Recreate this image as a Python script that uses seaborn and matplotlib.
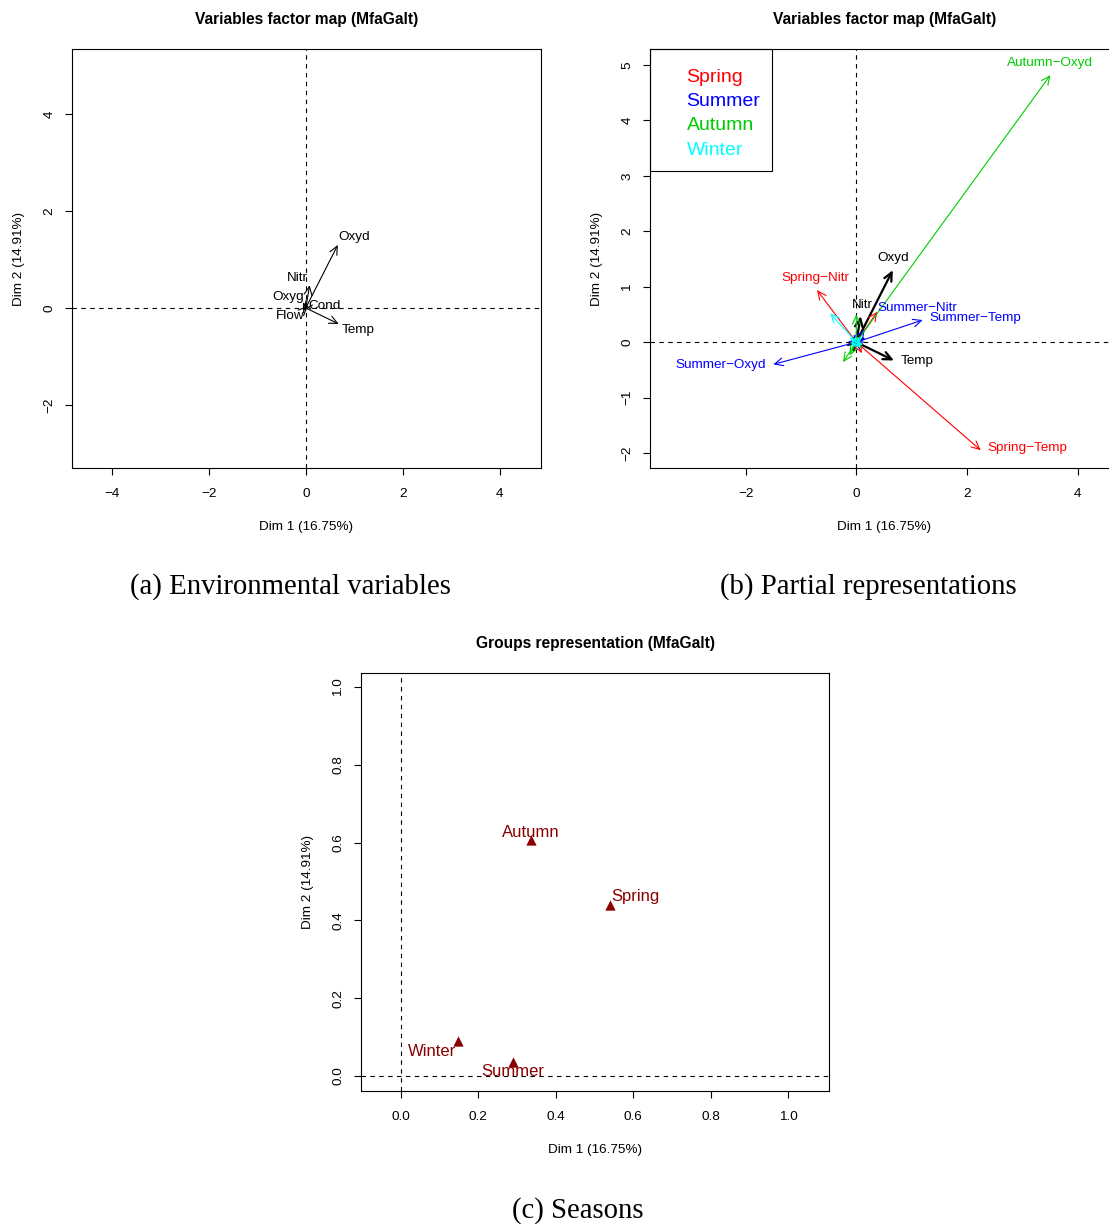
import numpy as np
import pandas as pd
import seaborn as sns
import matplotlib.pyplot as plt
from matplotlib.patches import Rectangle

# (a) environmental variables: coordinates on Dim 1 / Dim 2
env_vars = ["Oxyd", "Nitr", "Oxyg", "Cond", "Flow", "Temp"]
env_dim1 = [0.66, 0.08, -0.06, 0.04, -0.04, 0.68]
env_dim2 = [1.30, 0.47, 0.12, 0.04, -0.06, -0.33]

# (b) partial representations, one list per season (same variable order)
seasons = ["Spring", "Summer", "Autumn", "Winter"]
season_colors = ["#FF0000", "#0000FF", "#00CD00", "#00FFFF"]
spring_dim1 = [0.38, -0.71, 0.10, 0.05, -0.05, 2.25]
spring_dim2 = [0.55, 0.94, -0.20, 0.05, 0.08, -1.95]
summer_dim1 = [-1.50, 0.15, 0.08, -0.05, 0.05, 1.20]
summer_dim2 = [-0.40, 0.22, 0.05, 0.03, -0.04, 0.40]
autumn_dim1 = [3.51, 0.00, -0.24, -0.12, 0.05, 0.10]
autumn_dim2 = [4.82, 0.50, -0.36, -0.24, 0.10, -0.10]
winter_dim1 = [-0.12, -0.47, 0.10, 0.12, -0.10, 0.08]
winter_dim2 = [0.08, 0.52, 0.10, -0.05, -0.08, -0.10]

# (c) groups representation
group_names = ["Spring", "Summer", "Autumn", "Winter"]
group_dim1 = [0.539, 0.289, 0.335, 0.147]
group_dim2 = [0.440, 0.036, 0.607, 0.090]

XLAB = "Dim 1 (16.75%)"
YLAB = "Dim 2 (14.91%)"

sns.set_style("ticks")
plt.rcParams["font.family"] = ["Liberation Sans", "DejaVu Sans"]
plt.rcParams["axes.unicode_minus"] = True
plt.rcParams["text.color"] = "black"
plt.rcParams["axes.labelcolor"] = "black"


def style_axes(ax, title):
    for s in ax.spines.values():
        s.set_linewidth(0.8)
        s.set_color("black")
    ax.tick_params(direction="out", length=5, width=0.8, pad=9.5,
                   labelsize=9.7, colors="black")
    ax.tick_params(axis="y", labelrotation=90, pad=7)
    for lab in ax.get_yticklabels():
        lab.set_va("center")
    ax.set_xlabel(XLAB, fontsize=9.7, labelpad=15, color="black")
    ax.set_ylabel(YLAB, fontsize=9.7, labelpad=13, color="black")
    ax.set_title(title, fontsize=11.2, fontweight="bold", pad=18, color="black")
    ax.axhline(0, color="black", lw=0.8, ls=(0, (4, 4)), zorder=1)
    ax.axvline(0, color="black", lw=0.8, ls=(0, (4, 4)), zorder=1)


def arrow(ax, x, y, color, lw=0.8):
    ax.annotate("", xy=(x, y), xytext=(0, 0),
                arrowprops=dict(arrowstyle="->,head_length=0.6,head_width=0.28",
                                mutation_scale=10, color=color, lw=lw,
                                shrinkA=0, shrinkB=0), zorder=3)


def label(ax, text, x, y, off, color, size):
    ax.annotate(text, xy=(x, y), xytext=off, textcoords="offset pixels",
                ha="center", va="center", fontsize=size, color=color, zorder=4)


fig = plt.figure(figsize=(11.09, 12.24), dpi=100)
ax1 = fig.add_axes([0.06492, 0.61765, 0.42290, 0.34232])
ax2 = fig.add_axes([0.58612, 0.61765, 0.42290, 0.34232])
ax3 = fig.add_axes([0.32552, 0.10866, 0.42200, 0.34150])

# ---- (a)
off_a = {"Oxyd": (16, 8), "Nitr": (-12, 7), "Oxyg": (-15, 5),
         "Cond": (17, 0), "Flow": (-14, -5), "Temp": (19, -6)}
for name, x, y in zip(env_vars, env_dim1, env_dim2):
    arrow(ax1, x, y, "black")
    label(ax1, name, x, y, off_a[name], "black", 9.7)
ax1.set_xlim(-4.82, 4.85)
ax1.set_ylim(-3.30, 5.34)
ax1.set_xticks([-4, -2, 0, 2, 4])
ax1.set_yticks([-2, 0, 2, 4])
style_axes(ax1, "Variables factor map (MfaGalt)")

# ---- (b)
for name, x, y in zip(env_vars, env_dim1, env_dim2):
    arrow(ax2, x, y, "black", lw=1.6)
season_x = [spring_dim1, summer_dim1, autumn_dim1, winter_dim1]
season_y = [spring_dim2, summer_dim2, autumn_dim2, winter_dim2]
for xs, ys, col in zip(season_x, season_y, season_colors):
    for x, y in zip(xs, ys):
        arrow(ax2, x, y, col)

off_black = {"Oxyd": (0, 12), "Nitr": (2, 11), "Temp": (23, -1)}
for name, x, y in zip(env_vars, env_dim1, env_dim2):
    if name in off_black:
        label(ax2, name, x, y, off_black[name], "black", 9.7)
off_part = {"Spring-Nitr": (-2, 12), "Spring-Temp": (47, 2),
            "Summer-Oxyd": (-53, -1), "Summer-Nitr": (53, 22),
            "Summer-Temp": (53, 2), "Autumn-Oxyd": (0, 12)}
for season, xs, ys, col in zip(seasons, season_x, season_y, season_colors):
    for name, x, y in zip(env_vars, xs, ys):
        key = f"{season}-{name}"
        if key in off_part:
            label(ax2, f"{season}\u2212{name}", x, y, off_part[key], col, 9.7)

ax2.set_xlim(-3.73, 4.75)
ax2.set_ylim(-2.27, 5.29)
ax2.set_xticks([-2, 0, 2, 4])
ax2.set_yticks(range(-2, 6))
style_axes(ax2, "Variables factor map (MfaGalt)")
ax2.add_patch(Rectangle((0, 1), 0.2607, -0.2912, transform=ax2.transAxes,
                        fill=False, edgecolor="black", lw=0.8, zorder=5,
                        clip_on=False))
for i, (s, c) in enumerate(zip(seasons, season_colors)):
    ax2.text(0.078, 0.932 - i * 0.0578, s, transform=ax2.transAxes,
             color=c, fontsize=14, ha="left", va="center", zorder=5)

# ---- (c)
grp = pd.DataFrame({"group": group_names, "dim1": group_dim1, "dim2": group_dim2})
sns.scatterplot(data=grp, x="dim1", y="dim2", marker="^", color="#8B0000",
                s=55, linewidth=0, ax=ax3, legend=False, zorder=3)
off_c = {"Spring": (26, 8), "Summer": (0, -10), "Autumn": (0, 7), "Winter": (-26, -11)}
for name, x, y in zip(group_names, group_dim1, group_dim2):
    label(ax3, name, x, y, off_c[name], "#8B0000", 12)
ax3.set_xlim(-0.103, 1.105)
ax3.set_ylim(-0.039, 1.036)
ax3.set_xticks(np.arange(0, 1.01, 0.2))
ax3.set_yticks(np.arange(0, 1.01, 0.2))
ax3.set_xticklabels([f"{v:.1f}" for v in np.arange(0, 1.01, 0.2)])
ax3.set_yticklabels([f"{v:.1f}" for v in np.arange(0, 1.01, 0.2)])
style_axes(ax3, "Groups representation (MfaGalt)")

# captions
cap = dict(family=["Liberation Serif", "DejaVu Serif"], fontsize=20.7,
           color="black", ha="center", va="center")
fig.text(0.2615, 0.5205, "(a) Environmental variables", **cap)
fig.text(0.7827, 0.5205, "(b) Partial representations", **cap)
fig.text(0.5212, 0.0106, "(c) Seasons", **cap)

fig.savefig("out.png", dpi=100)
